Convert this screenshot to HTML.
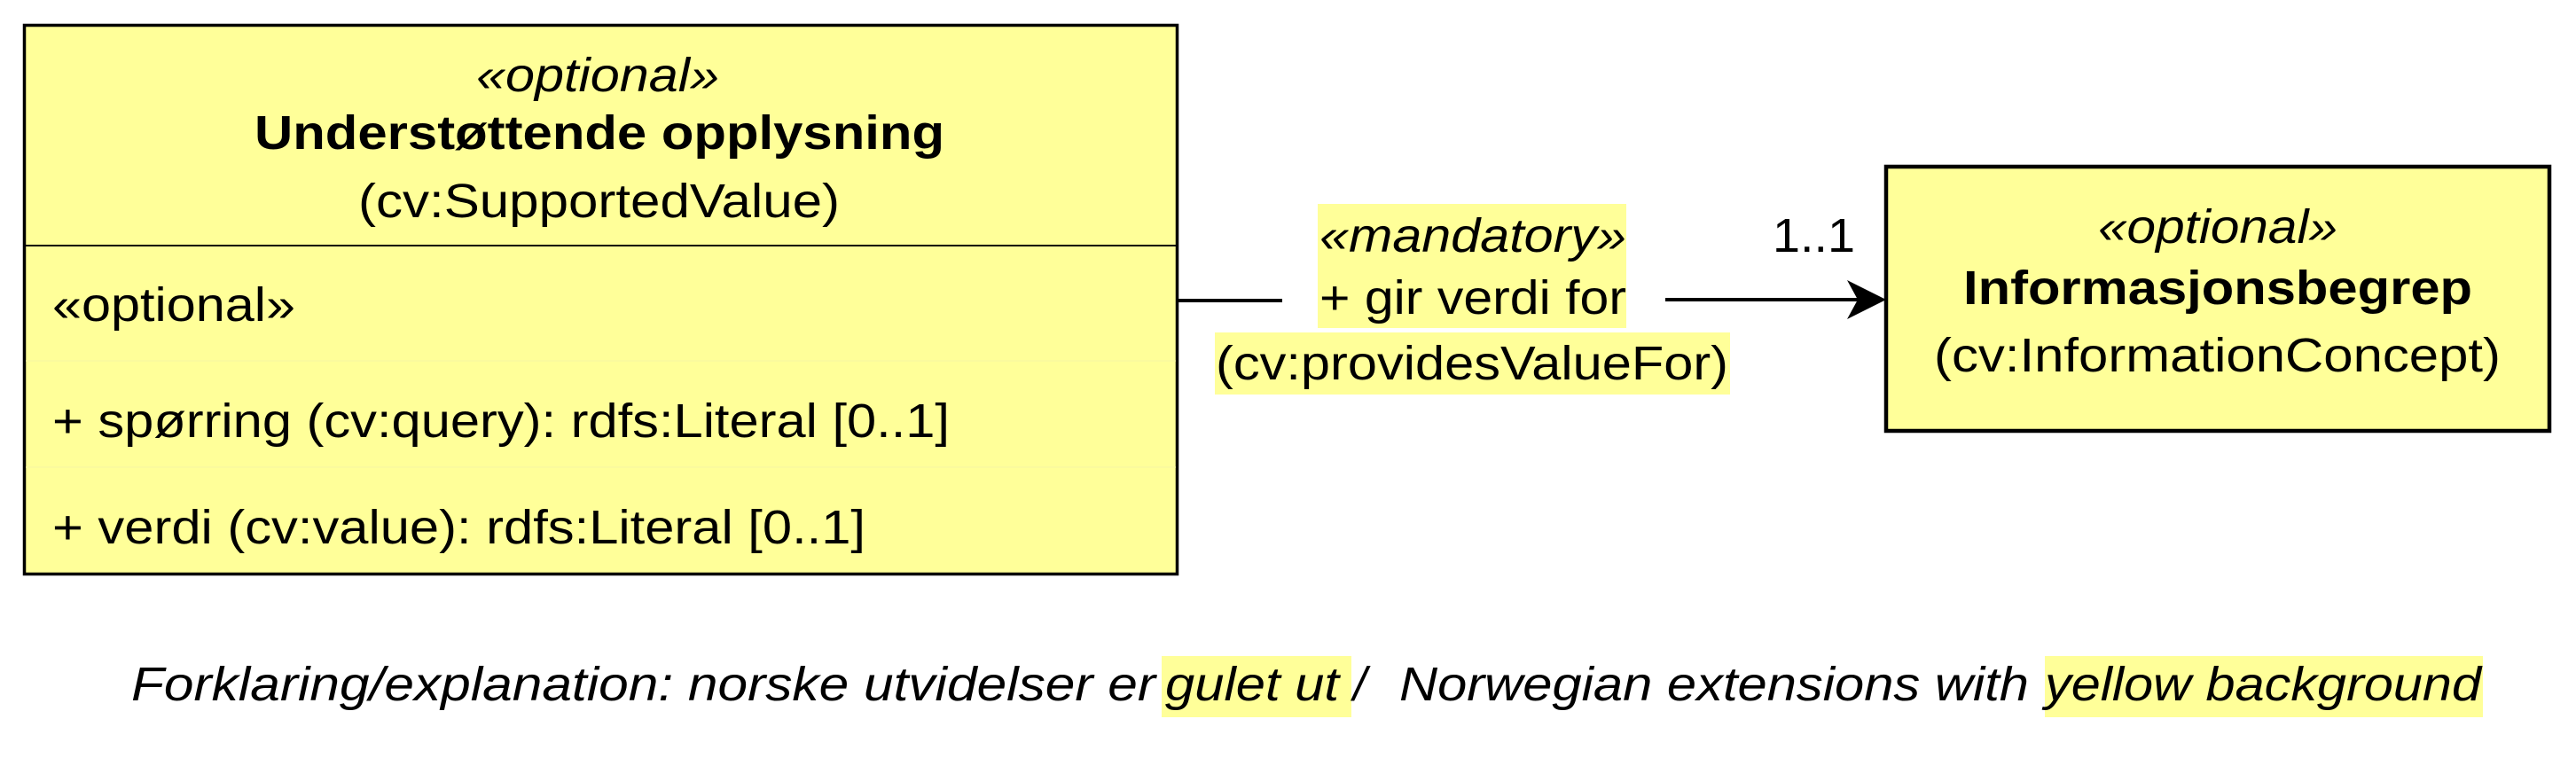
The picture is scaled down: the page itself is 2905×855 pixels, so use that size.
<!DOCTYPE html>
<html><head><meta charset="utf-8"><style>
html,body{margin:0;padding:0;background:#fff;}
svg{display:block;}
text{font-family:"Liberation Sans",Arial,sans-serif;font-size:54px;fill:#000;}
</style></head><body>
<svg width="2905" height="855" viewBox="0 0 2905 855" xmlns="http://www.w3.org/2000/svg">
<rect x="27.5" y="28.5" width="1300" height="619" fill="#ffff99" stroke="#000" stroke-width="3.5"/>
<line x1="27" y1="277" x2="1328" y2="277" stroke="#000" stroke-width="2"/>
<line x1="29" y1="407" x2="1326" y2="407" stroke="#f4f4a4" stroke-width="1"/>
<line x1="29" y1="527" x2="1326" y2="527" stroke="#f4f4a4" stroke-width="1"/>
<text x="537" y="103" font-style="italic" textLength="274" lengthAdjust="spacingAndGlyphs">«optional»</text>
<text x="287" y="168" font-weight="bold" textLength="778" lengthAdjust="spacingAndGlyphs">Understøttende opplysning</text>
<text x="404" y="245" textLength="543" lengthAdjust="spacingAndGlyphs">(cv:SupportedValue)</text>
<text x="59" y="362" textLength="274" lengthAdjust="spacingAndGlyphs">«optional»</text>
<text x="59" y="493" textLength="1012" lengthAdjust="spacingAndGlyphs">+ spørring (cv:query): rdfs:Literal [0..1]</text>
<text x="59" y="613" textLength="917" lengthAdjust="spacingAndGlyphs">+ verdi (cv:value): rdfs:Literal [0..1]</text>
<rect x="2127" y="188" width="748" height="298" fill="#ffff99" stroke="#000" stroke-width="4.5"/>
<text x="2366" y="274" font-style="italic" textLength="270" lengthAdjust="spacingAndGlyphs">«optional»</text>
<text x="2214" y="343" font-weight="bold" textLength="574" lengthAdjust="spacingAndGlyphs">Informasjonsbegrep</text>
<text x="2181" y="419" textLength="639" lengthAdjust="spacingAndGlyphs">(cv:InformationConcept)</text>
<line x1="1328" y1="339" x2="1446" y2="339" stroke="#000" stroke-width="4"/>
<line x1="1878" y1="338" x2="2120" y2="338" stroke="#000" stroke-width="4"/>
<path d="M2083,316 L2127,338 L2083,360 L2095,338 Z" fill="#000"/>
<rect x="1486" y="230" width="348" height="140" fill="#ffff99"/>
<rect x="1370" y="375" width="581" height="70" fill="#ffff99"/>
<text x="1488" y="284" font-style="italic" textLength="346" lengthAdjust="spacingAndGlyphs">«mandatory»</text>
<text x="1488" y="354" textLength="346" lengthAdjust="spacingAndGlyphs">+ gir verdi for</text>
<text x="1371" y="428" textLength="578" lengthAdjust="spacingAndGlyphs">(cv:providesValueFor)</text>
<text x="1999" y="284" textLength="93" lengthAdjust="spacingAndGlyphs">1..1</text>
<rect x="1310" y="740" width="214" height="69" fill="#ffff99"/>
<rect x="2306" y="740" width="494" height="69" fill="#ffff99"/>
<text y="790" font-style="italic">
<tspan x="148" textLength="1155" lengthAdjust="spacingAndGlyphs">Forklaring/explanation: norske utvidelser er</tspan>
<tspan x="1314" textLength="196" lengthAdjust="spacingAndGlyphs">gulet ut</tspan>
<tspan x="1526">/</tspan>
<tspan x="1578" textLength="710" lengthAdjust="spacingAndGlyphs">Norwegian extensions with</tspan>
<tspan x="2306" textLength="492" lengthAdjust="spacingAndGlyphs">yellow background</tspan>
</text>
</svg>
</body></html>
